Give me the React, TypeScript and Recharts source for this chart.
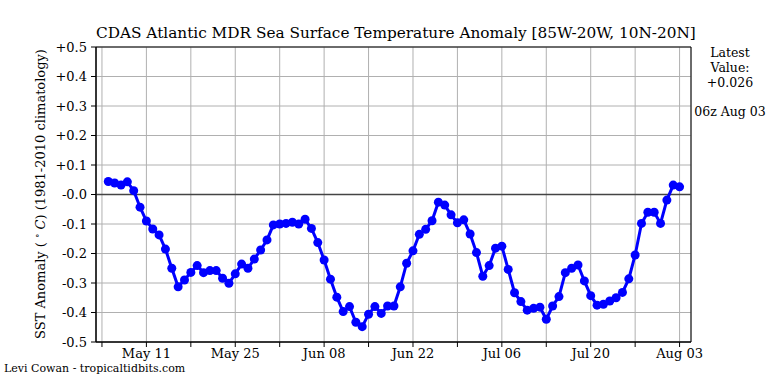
import { CartesianGrid, Line, LineChart, ReferenceArea, ReferenceLine, XAxis, YAxis } from "recharts";

const FONT = "'DejaVu Serif', serif";

// daily SST anomaly, May 05 .. Aug 03 (06z)
const sstValues = [
  0.044, 0.039, 0.032, 0.043, 0.013, -0.043, -0.09, -0.117, -0.137, -0.185,
  -0.25, -0.313, -0.29, -0.264, -0.241, -0.265, -0.258, -0.258, -0.284, -0.301,
  -0.269, -0.236, -0.25, -0.219, -0.188, -0.154, -0.103, -0.1, -0.098, -0.094,
  -0.1, -0.084, -0.115, -0.163, -0.222, -0.287, -0.348, -0.397, -0.38, -0.433,
  -0.448, -0.406, -0.38, -0.403, -0.378, -0.378, -0.313, -0.233, -0.191, -0.135,
  -0.118, -0.089, -0.026, -0.036, -0.069, -0.096, -0.086, -0.134, -0.197, -0.277,
  -0.241, -0.182, -0.175, -0.254, -0.333, -0.363, -0.392, -0.386, -0.382, -0.423,
  -0.378, -0.346, -0.265, -0.25, -0.239, -0.293, -0.343, -0.375, -0.372, -0.361,
  -0.35, -0.332, -0.286, -0.205, -0.098, -0.06, -0.06, -0.098, -0.019, 0.032,
  0.026,
];

// x = days since May 04; first value is May 05
const firstDay = 1;
const xTicks = [0, 7, 14, 21, 28, 35, 42, 49, 56, 63, 70, 77, 84, 91];
const xTickLabels: Record<number, string> = {
  7: "May 11",
  21: "May 25",
  35: "Jun 08",
  49: "Jun 22",
  63: "Jul 06",
  77: "Jul 20",
  91: "Aug 03",
};
const yTicks = [-0.5, -0.4, -0.3, -0.2, -0.1, 0, 0.1, 0.2, 0.3, 0.4, 0.5];

const data = sstValues.map((v, i) => ({ day: firstDay + i, sst: v }));

const fmtY = (v: number) => (v > 0 ? "+" : "-") + Math.abs(v).toFixed(1);

const tickStyle = { fill: "#000", fontSize: 13, fontFamily: FONT };

export default function App() {
  return (
    <div style={{ position: "absolute", left: 0, top: 0, width: 768, height: 384, background: "#fff", fontFamily: FONT }}>
      <LineChart width={768} height={384} data={data} margin={{ top: 47, right: 77, bottom: 12, left: 36 }}>
        <CartesianGrid stroke="#b0b0b0" strokeWidth={1} />
        <XAxis
          type="number"
          dataKey="day"
          domain={[-0.94, 92.8]}
          ticks={xTicks}
          interval={0}
          tickFormatter={(d: number) => xTickLabels[d] ?? ""}
          tick={tickStyle}
          tickSize={5}
          tickMargin={2}
          stroke="#000"
          height={30}
          allowDataOverflow
        />
        <YAxis
          type="number"
          domain={[-0.5, 0.5]}
          ticks={yTicks}
          interval={0}
          tickFormatter={fmtY}
          tick={tickStyle}
          tickSize={5}
          tickMargin={4}
          stroke="#000"
          width={60}
        />
        <ReferenceLine y={0} stroke="#444" strokeWidth={1.5} />
        <ReferenceArea x1={-0.94} x2={92.8} y1={-0.5} y2={0.5} fill="none" stroke="#000" strokeWidth={1} />
        <Line
          type="linear"
          dataKey="sst"
          stroke="#0000ff"
          strokeWidth={3}
          dot={{ r: 4.5, fill: "#0000ff", stroke: "#0000ff", strokeWidth: 0 }}
          isAnimationActive={false}
        />
      </LineChart>
      <div style={{ position: "absolute", left: 96, width: 595, top: 24, textAlign: "center", fontSize: 15.3, lineHeight: "18px", whiteSpace: "nowrap" }}>
        CDAS Atlantic MDR Sea Surface Temperature Anomaly [85W-20W, 10N-20N]
      </div>
      <div
        style={{
          position: "absolute",
          left: 37 - 170,
          top: 194 - 9,
          width: 340,
          height: 18,
          lineHeight: "18px",
          textAlign: "center",
          fontSize: 13,
          whiteSpace: "nowrap",
          transform: "rotate(-90deg)",
        }}
      >
        SST Anomaly ({" "}
        <span style={{ fontSize: 9, verticalAlign: "5px" }}>∘</span> <i>C</i>) (1981-2010 climatology)
      </div>
      <div style={{ position: "absolute", left: 692, width: 76, top: 45, textAlign: "center", fontSize: 12.5, lineHeight: "15px" }}>
        Latest
        <br />
        Value:
        <br />
        +0.026
      </div>
      <div style={{ position: "absolute", left: 692, width: 76, top: 104, textAlign: "center", fontSize: 12.5, lineHeight: "15px", whiteSpace: "nowrap" }}>
        06z Aug 03
      </div>
      <div style={{ position: "absolute", left: 4, top: 362, fontSize: 11, lineHeight: "14px", whiteSpace: "nowrap" }}>
        Levi Cowan - tropicaltidbits.com
      </div>
    </div>
  );
}
